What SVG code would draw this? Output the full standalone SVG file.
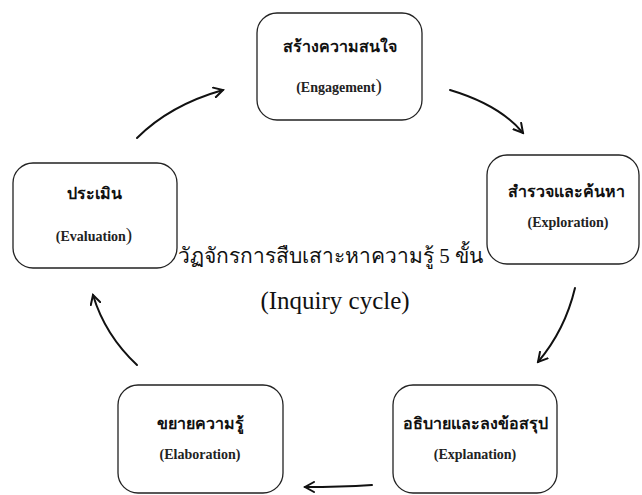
<svg xmlns="http://www.w3.org/2000/svg" width="642" height="495" viewBox="0 0 642 495">
<style>
.box{fill:#fff;stroke:#222;stroke-width:1.3}
.th{font-family:"Liberation Serif","Noto Sans",serif;font-size:16px;font-weight:600;fill:#111;text-anchor:middle}
.en{font-family:"Liberation Serif",serif;font-size:14px;font-weight:bold;fill:#222;text-anchor:middle}
.title{font-family:"Liberation Serif","Noto Sans",serif;font-size:21px;fill:#111}
.sub{font-family:"Liberation Serif",serif;font-size:25px;fill:#111;text-anchor:middle}
.con{fill:none;stroke:#111;stroke-width:2;stroke-linecap:round}
</style>
<defs>
<marker id="ah" markerWidth="12" markerHeight="12" viewBox="0 0 12 12" refX="10" refY="6" orient="auto" markerUnits="userSpaceOnUse">
<path d="M1,1 L10,6 L1,11" fill="none" stroke="#111" stroke-width="2" stroke-linecap="round"/>
</marker>
</defs>
<rect width="642" height="495" fill="#fff"/>
<g id="engagement">
<rect class="box" x="257" y="13" width="165" height="107" rx="20"/>
<text class="th" x="340" y="52">สร้างความสนใจ</text>
<text class="en" x="339" y="92">(Engagement<tspan font-size="19" font-weight="normal">)</tspan></text>
</g>
<g id="exploration">
<rect class="box" x="487" y="155" width="152" height="109" rx="20"/>
<text class="th" x="566" y="197">สำรวจและค้นหา</text>
<text class="en" x="568" y="227">(Exploration)</text>
</g>
<g id="explanation">
<rect class="box" x="393" y="385" width="164" height="108" rx="20"/>
<text class="th" x="475" y="429">อธิบายและลงข้อสรุป</text>
<text class="en" x="475" y="459">(Explanation)</text>
</g>
<g id="elaboration">
<rect class="box" x="118" y="385" width="165" height="108" rx="20"/>
<text class="th" x="200" y="429">ขยายความรู้</text>
<text class="en" x="200" y="459">(Elaboration)</text>
</g>
<g id="evaluation">
<rect class="box" x="13" y="163" width="164" height="105" rx="20"/>
<text class="th" x="94" y="199">ประเมิน</text>
<text class="en" x="94" y="241">(Evaluation<tspan font-size="19" font-weight="normal">)</tspan></text>
</g>
<g id="title">
<text class="title" x="178" y="263">วัฏจักรการสืบเสาะหาความรู้ 5 ขั้น</text>
<text class="sub" x="335" y="309">(Inquiry cycle)</text>
</g>
<g id="connectors">
<path class="con" d="M137,138 Q170,105 223,90" marker-end="url(#ah)"/>
<path class="con" d="M450,90 Q500,105 523,133" marker-end="url(#ah)"/>
<path class="con" d="M575,288 Q565,330 538,362" marker-end="url(#ah)"/>
<path class="con" d="M372,485 Q340,487 305,487" marker-end="url(#ah)"/>
<path class="con" d="M137,365 Q105,335 93,295" marker-end="url(#ah)"/>
</g>
</svg>
